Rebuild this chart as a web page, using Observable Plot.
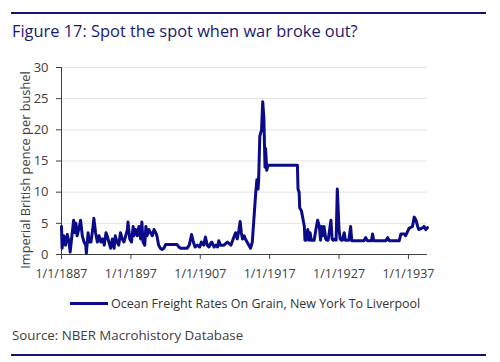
<!DOCTYPE html>
<html>
<head>
<meta charset="utf-8">
<script src="https://cdn.jsdelivr.net/npm/d3@7"></script>
<script src="https://cdn.jsdelivr.net/npm/@observablehq/plot@0.6"></script>
<style>
  body { margin: 0; width: 500px; height: 362px; background: #fff; overflow: hidden; position: relative; font-family: "Open Sans", sans-serif; }
  .rule { position: absolute; left: 11px; width: 475px; height: 2px; background: #14146e; }
  #title { position: absolute; left: 12px; top: 19px; font-size: 16.4px; color: #1a1a6e; white-space: nowrap; }
  #chart { position: absolute; left: 0; top: 50px; }
  #legend { position: absolute; left: 70px; top: 295px; display: flex; align-items: center; font-size: 12.5px; color: #333; white-space: nowrap; }
  #legend .swatch { width: 38px; height: 3px; background: #0b0b8a; margin-right: 3px; }
  #source { position: absolute; left: 12px; top: 326px; font-size: 13.3px; color: #404040; white-space: nowrap; }
</style>
</head>
<body>
<div class="rule" style="top:12px"></div>
<div id="title">Figure 17: Spot the spot when war broke out?</div>
<div id="chart"></div>
<div id="legend"><div class="swatch"></div><span>Ocean Freight Rates On Grain, New York To Liverpool</span></div>
<div id="source">Source: NBER Macrohistory Database</div>
<div class="rule" style="top:354px"></div>
<script>
const months = [
  "1887-01","1887-02","1887-05","1887-08","1887-11","1888-02","1888-04","1888-07","1888-10","1888-12",
  "1889-02","1889-04","1889-08","1889-10","1890-01","1890-04","1890-07","1890-08","1890-11","1891-01",
  "1891-04","1891-07","1891-09","1891-12","1892-03","1892-06","1892-09","1892-12","1893-03","1893-06",
  "1893-08","1893-11","1894-02","1894-05","1894-08","1894-10","1895-01","1895-04","1895-07","1895-10",
  "1896-01","1896-04","1896-07","1896-08","1896-11","1897-02","1897-05","1897-06","1897-09","1897-12",
  "1898-03","1898-06","1898-08","1898-10","1899-01","1899-03","1899-05","1899-08","1899-11","1900-02",
  "1900-05","1900-08","1900-10","1901-01","1901-04","1901-07","1901-10","1902-01","1903-09","1903-12",
  "1904-03","1905-02","1905-06","1905-10","1906-01","1906-04","1906-08","1906-12","1907-03","1907-07",
  "1907-10","1908-01","1908-04","1908-07","1908-09","1909-01","1909-04","1909-07","1909-09","1909-12",
  "1910-06","1910-12","1911-06","1911-12","1912-02","1912-05","1912-08","1912-10","1912-12","1913-02",
  "1913-05","1913-07","1913-10","1914-01","1914-04","1914-07","1914-10","1915-01","1915-03","1915-05",
  "1915-06","1915-08","1915-11","1916-01","1916-03","1916-05","1916-06","1916-08","1916-10","1921-01",
  "1921-02","1921-04","1921-05","1921-08","1921-10","1922-01","1922-02","1922-04","1922-07","1922-09",
  "1922-11","1923-01","1923-04","1923-06","1923-09","1923-12","1924-03","1924-05","1924-07","1924-09",
  "1924-11","1925-02","1925-04","1925-06","1925-08","1925-11","1926-01","1926-03","1926-06","1926-08",
  "1926-10","1927-01","1927-03","1927-05","1927-07","1927-10","1927-12","1928-02","1928-06","1928-09",
  "1928-11","1929-03","1930-08","1930-11","1931-02","1931-09","1931-11","1932-01","1933-10","1934-01",
  "1934-04","1935-09","1935-12","1936-06","1936-08","1937-02","1937-08","1937-11","1938-02","1938-05",
  "1938-07","1939-02","1939-04","1939-07","1939-10"
];
const pence = [
  4.5,1.0,3.0,1.5,3.2,2.0,0.4,3.0,5.5,3.5,
  5.0,3.0,4.5,5.5,3.0,2.0,1.5,0.2,3.5,2.0,
  2.0,4.0,5.8,3.5,2.0,3.0,2.0,2.5,1.5,3.5,
  3.0,2.0,1.0,2.5,1.0,3.0,2.0,1.5,3.5,2.5,
  2.0,3.0,4.0,5.2,2.5,2.0,4.5,3.0,4.0,3.0,
  4.5,2.5,5.2,2.0,1.5,4.5,3.0,4.0,3.5,3.0,
  4.0,3.5,3.0,1.5,1.0,0.8,1.0,1.6,1.6,1.2,
  1.0,1.0,1.5,3.2,2.0,1.2,1.5,1.2,2.0,1.5,
  2.8,1.5,1.2,1.8,2.0,1.2,1.5,1.2,2.2,1.5,
  1.5,2.0,1.5,3.0,3.5,2.5,4.0,5.3,3.5,2.5,
  3.0,2.5,2.0,1.5,1.0,2.0,6.0,10.0,12.0,10.5,
  12.0,19.0,20.0,24.5,22.0,14.0,17.0,13.5,14.3,14.3,
  10.5,10.0,7.5,7.0,6.0,4.5,2.3,2.3,4.0,2.3,
  3.5,2.3,2.3,2.3,4.0,5.5,4.5,2.3,4.5,3.0,
  4.5,2.5,2.3,2.3,3.5,5.5,2.5,2.3,2.5,2.3,
  10.5,4.0,2.5,2.3,2.3,3.5,2.3,2.3,2.3,4.5,
  2.2,2.2,2.2,2.7,2.2,2.2,3.3,2.2,2.2,2.7,
  2.2,2.2,3.3,3.3,3.0,4.2,4.5,6.0,5.5,4.5,
  4.0,4.3,4.5,4.0,4.3
];
const yTicks = [0, 5, 10, 15, 20, 25, 30];
const xTickYears = [1887, 1897, 1907, 1917, 1927, 1937];
const yLabel = "Imperial British pence per bushel";

const parse = d3.utcParse("%Y-%m");
const data = months.map((m, i) => ({date: parse(m), value: pence[i]}));
const xTicks = xTickYears.map(y => new Date(Date.UTC(y, 0, 1)));
const x0 = new Date(Date.UTC(1887, 0, 1));
const x1 = new Date(Date.UTC(1939, 9, 1));

const chart = Plot.plot({
  width: 500,
  height: 240,
  marginLeft: 61,
  marginRight: 73,
  marginTop: 17,
  marginBottom: 36,
  style: {fontFamily: "Open Sans, sans-serif", fontSize: "12.5px", color: "#404040", background: "transparent", overflow: "visible"},
  x: {type: "utc", domain: [x0, x1]},
  y: {domain: [0, 30]},
  marks: [
    Plot.ruleY(yTicks.filter(d => d > 0), {stroke: "#e3e3e3", strokeWidth: 1}),
    Plot.axisY({ticks: yTicks, tickSize: 5, tickPadding: 8, label: null, fontSize: 13, stroke: "#404040", fill: "#404040"}),
    Plot.axisX({ticks: xTicks, tickSize: 5, tickPadding: 10, label: null, fontSize: 12.5, tickFormat: d => `1/1/${d.getUTCFullYear()}`, stroke: "#404040", fill: "#404040"}),
    Plot.ruleX([x0], {stroke: "#404040"}),
    Plot.ruleY([0], {stroke: "#404040"}),
    Plot.lineY(data, {x: "date", y: "value", stroke: "#0b0b8a", strokeWidth: 3, strokeLinejoin: "round"}),
    Plot.text([yLabel], {frameAnchor: "left", textAnchor: "middle", rotate: -90, dx: -36, dy: 9, fontSize: 12.8, fill: "#404040"})
  ]
});
document.getElementById("chart").appendChild(chart);
</script>
</body>
</html>
